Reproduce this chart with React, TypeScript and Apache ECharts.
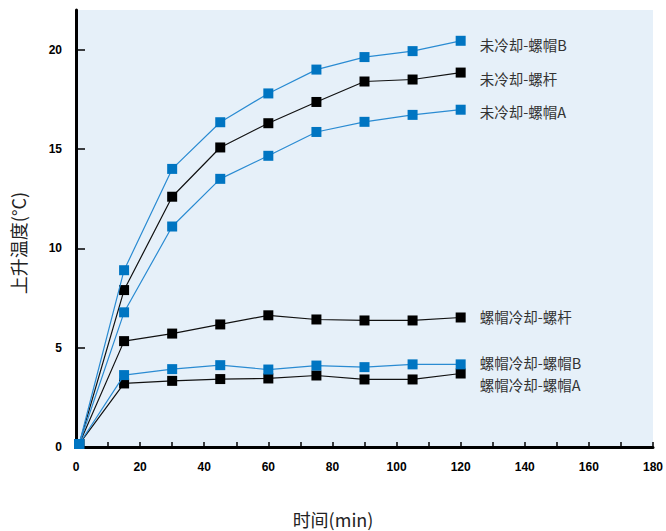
import React, { useEffect, useRef } from "react";
import * as echarts from "echarts";

const times = [1, 15, 30, 45, 60, 75, 90, 105, 120];
const seriesNames = [
  "未冷却-螺帽B",
  "未冷却-螺杆",
  "未冷却-螺帽A",
  "螺帽冷却-螺杆",
  "螺帽冷却-螺帽B",
  "螺帽冷却-螺帽A",
];
const uncooledNutB = [0.15, 8.9, 14.0, 16.35, 17.8, 19.0, 19.63, 19.93, 20.45];
const uncooledBolt = [0.15, 7.9, 12.6, 15.08, 16.3, 17.37, 18.4, 18.5, 18.85];
const uncooledNutA = [0.15, 6.78, 11.1, 13.5, 14.66, 15.86, 16.37, 16.72, 16.98];
const cooledBolt = [0.15, 5.33, 5.71, 6.17, 6.63, 6.42, 6.37, 6.37, 6.52];
const cooledNutB = [0.15, 3.62, 3.92, 4.12, 3.9, 4.1, 4.02, 4.16, 4.16];
const cooledNutA = [0.15, 3.2, 3.33, 3.42, 3.45, 3.6, 3.4, 3.4, 3.7];
const yTicks = [0, 5, 10, 15, 20];
const xName = "时间(min)";
const yName = "上升温度(°C)";

const BLUE_M = "#0075C2";
const BLUE_L = "#2A8BD2";
const BLACK = "#000000";

function mk(name: string, vals: number[], blue: boolean, labelDy: number) {
  return {
    name,
    type: "line",
    data: times.map((t, i) => [t, vals[i]]),
    symbol: "rect",
    symbolSize: 10,
    itemStyle: { color: blue ? BLUE_M : BLACK },
    lineStyle: { color: blue ? BLUE_L : "#111", width: 1.2 },
    endLabel: {
      show: true,
      formatter: "{a}",
      distance: 19,
      offset: [0, labelDy],
      color: "#333",
      fontSize: 14.5,
      fontFamily: "Noto Sans CJK SC",
    },
    z: blue ? 3 : 2,
  };
}

export default function App() {
  const ref = useRef<HTMLDivElement>(null);
  useEffect(() => {
    if (!ref.current) return;
    const chart = echarts.init(ref.current, null, { renderer: "svg" });
    const labelFont = {
      color: "#000",
      fontWeight: "bold" as const,
      fontSize: 12,
      fontFamily: "Liberation Sans, Arial, sans-serif",
    };
    chart.setOption({
      animation: false,
      backgroundColor: "#fff",
      grid: {
        left: 76,
        right: 13,
        top: 10,
        bottom: 84,
        outerBoundsMode: "none",
        containLabel: false,
        show: true,
        backgroundColor: "#E6F0F9",
        borderWidth: 0,
      },
      graphic: [
        {
          type: "text",
          x: 18,
          y: 243,
          rotation: Math.PI / 2,
          style: {
            text: yName,
            fontSize: 18,
            fill: "#222",
            fontFamily: "Noto Sans CJK SC",
            align: "center",
            verticalAlign: "middle",
          },
        },
        {
          type: "text",
          x: 333,
          y: 519,
          style: {
            text: xName,
            fontSize: 18,
            fill: "#222",
            fontFamily: "Noto Sans CJK SC",
            align: "center",
            verticalAlign: "middle",
          },
        },
      ],
      xAxis: {
        type: "value",
        min: 0,
        max: 180,
        interval: 20,
        axisLine: { show: true, lineStyle: { color: "#000", width: 3 } },
        axisTick: { show: true, inside: true, length: 5, lineStyle: { color: "#000", width: 1.5 } },
        minorTick: { show: true, splitNumber: 2, length: 5, lineStyle: { color: "#000", width: 1.5 } },
        splitLine: { show: false },
        axisLabel: { ...labelFont, margin: 14 },
      },
      yAxis: {
        type: "value",
        min: 0,
        max: 22,
        axisLine: { show: true, lineStyle: { color: "#000", width: 3 } },
        axisTick: {
          show: true,
          inside: true,
          length: 9,
          customValues: yTicks,
          lineStyle: { color: "#000", width: 1.5 },
        },
        splitLine: { show: false },
        axisLabel: { ...labelFont, margin: 14, customValues: yTicks },
      },
      series: [
        mk(seriesNames[0], uncooledNutB, true, 4),
        mk(seriesNames[1], uncooledBolt, false, 6),
        mk(seriesNames[2], uncooledNutA, true, 2),
        mk(seriesNames[3], cooledBolt, false, -1),
        mk(seriesNames[4], cooledNutB, true, -2),
        mk(seriesNames[5], cooledNutA, false, 11),
      ],
    });
    return () => chart.dispose();
  }, []);
  return (
    <div
      ref={ref}
      style={{ position: "absolute", left: 0, top: 0, width: 666, height: 531 }}
    />
  );
}
